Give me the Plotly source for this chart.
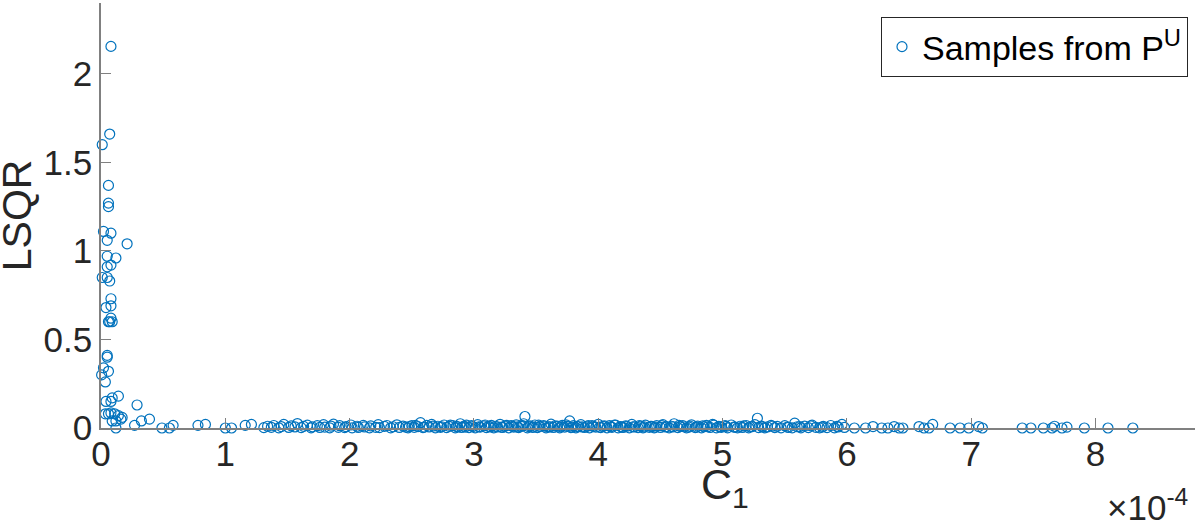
import plotly.graph_objects as go

# C1 values in units of 1e-4, LSQR values
near_x = [0.08, 0.07, 0.01, 0.06, 0.06, 0.06, 0.02, 0.08, 0.05, 0.21, 0.05, 0.12, 0.08, 0.05,
          0.01, 0.05, 0.07, 0.08, 0.08, 0.04, 0.08, 0.07, 0.09, 0.06, 0.05, 0.05, 0.02, 0.06,
          0.005, 0.035, 0.04, 0.08, 0.09, 0.14, 0.29, 0.035, 0.06, 0.08, 0.11, 0.14, 0.17, 0.09,
          0.12, 0.16, 0.12, 0.27, 0.325, 0.39, 0.49, 0.55, 0.58, 0.78, 0.84, 1.0, 1.05, 1.16, 1.21]
near_y = [2.155, 1.66, 1.60, 1.37, 1.27, 1.25, 1.11, 1.10, 1.06, 1.04, 0.97, 0.96, 0.92, 0.91,
          0.85, 0.85, 0.83, 0.73, 0.69, 0.68, 0.62, 0.60, 0.60, 0.60, 0.41, 0.40, 0.34, 0.32,
          0.30, 0.26, 0.15, 0.15, 0.17, 0.18, 0.13, 0.08, 0.08, 0.085, 0.08, 0.07, 0.06, 0.04,
          0.04, 0.05, 0.0, 0.015, 0.04, 0.05, 0.0, 0.0, 0.015, 0.015, 0.02, 0.0, 0.0, 0.015, 0.02]

band_x = [1.31, 1.34, 1.37, 1.39, 1.43, 1.45, 1.47, 1.51, 1.53, 1.56, 1.58, 1.61, 1.63, 1.66, 1.69, 1.70, 1.74, 1.76, 1.79,
          1.80, 1.84, 1.85, 1.87, 1.91, 1.92, 1.96, 1.97, 2.01, 2.02, 2.06, 2.07, 2.11, 2.12, 2.16, 2.17, 2.21, 2.23, 2.24, 2.28, 2.30,
          2.33, 2.35, 2.38, 2.40, 2.43, 2.45, 2.47, 2.50, 2.52, 2.55, 2.57, 2.59, 2.62, 2.64, 2.66, 2.69, 2.71, 2.73, 2.76, 2.78, 2.80,
          2.83, 2.85, 2.87, 2.89, 2.90, 2.92, 2.94, 2.96, 2.99, 3.01, 3.03, 3.05, 3.08, 3.10, 3.12, 3.14, 3.16, 3.19, 3.21, 3.23, 3.25, 3.28, 3.30,
          3.32, 3.34, 3.36, 3.38, 3.40, 3.41, 3.43, 3.45, 3.47, 3.49, 3.51, 3.53, 3.56, 3.58, 3.60, 3.62, 3.64, 3.67, 3.69, 3.71, 3.73, 3.75, 3.77, 3.78, 3.80,
          3.82, 3.84, 3.86, 3.89, 3.91, 3.93, 3.95, 3.98, 4.00, 4.02, 4.04, 4.07, 4.09, 4.11, 4.13, 4.16, 4.18, 4.20, 4.22, 4.25, 4.27, 4.29,
          4.32, 4.34, 4.36, 4.38, 4.41, 4.43, 4.45, 4.47, 4.50, 4.52, 4.54, 4.57, 4.59, 4.61, 4.64, 4.66, 4.68, 4.71, 4.73, 4.75, 4.78, 4.80,
          4.83, 4.85, 4.87, 4.90, 4.92, 4.95, 4.97, 4.99, 5.02, 5.04, 5.07, 5.09, 5.12, 5.14, 5.16, 5.19, 5.21, 5.24, 5.26, 5.28, 5.29,
          5.31, 5.34, 5.36, 5.39, 5.42, 5.44, 5.47, 5.50, 5.53, 5.56, 5.58, 5.60, 5.63, 5.66, 5.69, 5.72, 5.75, 5.78, 5.81, 5.84, 5.87, 5.90, 5.93, 5.96, 5.98]
band_y = [0.002, 0.010, 0.004, 0.014, 0.001, 0.008, 0.020, 0.003, 0.012, 0.006, 0.025, 0.002, 0.009, 0.016, 0.001, 0.007, 0.013, 0.003, 0.019,
          0.005, 0.001, 0.011, 0.022, 0.004, 0.013, 0.002, 0.008, 0.017, 0.001, 0.010, 0.003, 0.015, 0.006, 0.001, 0.012, 0.004, 0.019, 0.002, 0.009, 0.014,
          0.001, 0.007, 0.018, 0.003, 0.011, 0.005, 0.001, 0.013, 0.004, 0.008, 0.030, 0.002, 0.015, 0.006, 0.020, 0.001, 0.010, 0.004, 0.017, 0.002, 0.009,
          0.013, 0.001, 0.006, 0.024, 0.003, 0.011, 0.016, 0.002, 0.008, 0.001, 0.019, 0.005, 0.012, 0.002, 0.009, 0.015, 0.001, 0.006, 0.021, 0.003, 0.010, 0.001, 0.014,
          0.005, 0.018, 0.002, 0.009, 0.024, 0.065, 0.001, 0.012, 0.004, 0.017, 0.002, 0.008, 0.014, 0.001, 0.006, 0.022, 0.003, 0.011, 0.001, 0.015, 0.005, 0.009, 0.040, 0.002, 0.013,
          0.001, 0.007, 0.019, 0.003, 0.010, 0.001, 0.014, 0.005, 0.021, 0.002, 0.009, 0.001, 0.013, 0.004, 0.017, 0.001, 0.008, 0.003, 0.012, 0.001, 0.020, 0.006,
          0.002, 0.011, 0.001, 0.016, 0.004, 0.009, 0.001, 0.013, 0.003, 0.019, 0.006, 0.001, 0.010, 0.024, 0.002, 0.008, 0.014, 0.001, 0.005, 0.018, 0.002, 0.011,
          0.001, 0.007, 0.015, 0.003, 0.020, 0.001, 0.009, 0.004, 0.013, 0.001, 0.017, 0.005, 0.001, 0.010, 0.003, 0.014, 0.001, 0.008, 0.019, 0.055, 0.002,
          0.011, 0.001, 0.006, 0.015, 0.002, 0.009, 0.001, 0.013, 0.004, 0.001, 0.027, 0.007, 0.001, 0.011, 0.002, 0.016, 0.004, 0.001, 0.009, 0.002, 0.014, 0.001, 0.006, 0.020, 0.003]

# extra samples where the band is densest
dense_x = [2.48, 2.53, 2.60, 2.67, 2.74, 2.81, 2.86, 2.93, 2.98, 3.04, 3.09, 3.13, 3.17, 3.22, 3.26, 3.31,
           3.35, 3.39, 3.44, 3.48, 3.52, 3.57, 3.61, 3.65, 3.70, 3.74, 3.79, 3.83, 3.87, 3.92, 3.96, 4.01,
           4.05, 4.10, 4.14, 4.19, 4.23, 4.28, 4.33, 4.37, 4.42, 4.46, 4.51, 4.55, 4.60, 4.65, 4.69, 4.74,
           4.79, 4.84, 4.88, 4.93, 4.98, 5.03, 5.10, 5.17, 5.22, 5.32, 5.40, 5.52, 5.62, 5.71, 5.80, 5.92]
dense_y = [0.008, 0.015, 0.005, 0.011, 0.007, 0.016, 0.009, 0.005, 0.013, 0.007, 0.017, 0.006, 0.010, 0.005, 0.015, 0.009,
           0.006, 0.013, 0.008, 0.005, 0.016, 0.010, 0.006, 0.012, 0.007, 0.018, 0.005, 0.010, 0.006, 0.014, 0.008, 0.005,
           0.012, 0.007, 0.016, 0.005, 0.010, 0.007, 0.014, 0.006, 0.009, 0.005, 0.013, 0.008, 0.006, 0.015, 0.007, 0.010,
           0.005, 0.012, 0.007, 0.016, 0.006, 0.009, 0.005, 0.012, 0.007, 0.006, 0.010, 0.005, 0.008, 0.012, 0.005, 0.009]

tail_x = [6.06, 6.15, 6.21, 6.28, 6.33, 6.38, 6.42, 6.45, 6.58, 6.62, 6.66, 6.69, 6.83, 6.91,
          6.98, 7.06, 7.09, 7.41, 7.48, 7.58, 7.65, 7.67, 7.73, 7.77, 7.91, 8.10, 8.30]
tail_y = [0.0, 0.0, 0.008, 0.0, 0.0, 0.008, 0.0, 0.0, 0.008, 0.0, 0.0, 0.02, 0.0, 0.0,
          0.0, 0.008, 0.0, 0.0, 0.0, 0.0, 0.0, 0.01, 0.0, 0.005, 0.0, 0.0, 0.0]

x_ticks = [0, 1, 2, 3, 4, 5, 6, 7, 8]
y_ticks = [0, 0.5, 1, 1.5, 2]

FONT = "Liberation Sans, Arial, sans-serif"
BLUE = "#0072BD"
AXIS = "#808080"
TEXT = "#262626"

fig = go.Figure()
fig.add_trace(go.Scatter(
    x=near_x + band_x + dense_x + tail_x,
    y=near_y + band_y + dense_y + tail_y,
    mode="markers",
    name="Samples from P<sup>U</sup>",
    marker=dict(symbol="circle-open", size=10, color=BLUE, line=dict(width=1.2, color=BLUE)),
    cliponaxis=False,
))

fig.update_layout(
    width=1199, height=528,
    margin=dict(l=101, r=4, t=3, b=100),
    plot_bgcolor="white", paper_bgcolor="white",
    font=dict(family=FONT, color=TEXT, size=35),
    showlegend=True,
    legend=dict(
        x=0.9936, y=0.967, xanchor="right", yanchor="top",
        bordercolor=TEXT, borderwidth=1, bgcolor="white",
        font=dict(size=34, color="#000000"),
        itemwidth=30, tracegroupgap=0,
    ),
    xaxis=dict(
        range=[0, 8.8], tickvals=x_ticks, ticks="inside", ticklen=10, tickcolor=AXIS,
        showline=True, linecolor=AXIS, linewidth=1.5, showgrid=False, zeroline=False,
        tickfont=dict(size=35), automargin=False, ticklabelstandoff=-6,
    ),
    yaxis=dict(
        range=[0, 2.4], tickvals=y_ticks, ticktext=["0", "0.5", "1", "1.5", "2"],
        ticks="inside", ticklen=10, tickcolor=AXIS, ticklabelstandoff=0,
        showline=True, linecolor=AXIS, linewidth=1.5, showgrid=False, zeroline=False,
        tickfont=dict(size=35), automargin=False,
    ),
)

# axis labels placed like the MATLAB figure
fig.add_annotation(
    text="LSQR", xref="paper", yref="paper", x=-0.077, y=0.5, textangle=-90,
    xanchor="center", yanchor="middle", showarrow=False, borderpad=0,
    font=dict(size=41, color=TEXT),
)
fig.add_annotation(
    text="C<sub>1</sub>", xref="paper", yref="paper", x=0.57, y=-0.07,
    xanchor="center", yanchor="top", showarrow=False, font=dict(size=43, color=TEXT),
)
fig.add_annotation(
    text="\u00d710<sup>-4</sup>", xref="paper", yref="paper", x=0.9954, y=-0.125,
    xanchor="right", yanchor="top", showarrow=False, font=dict(size=35, color=TEXT),
)

fig.write_html("out.html", config={"displayModeBar": False},
               post_script="document.body.style.margin='0';")
